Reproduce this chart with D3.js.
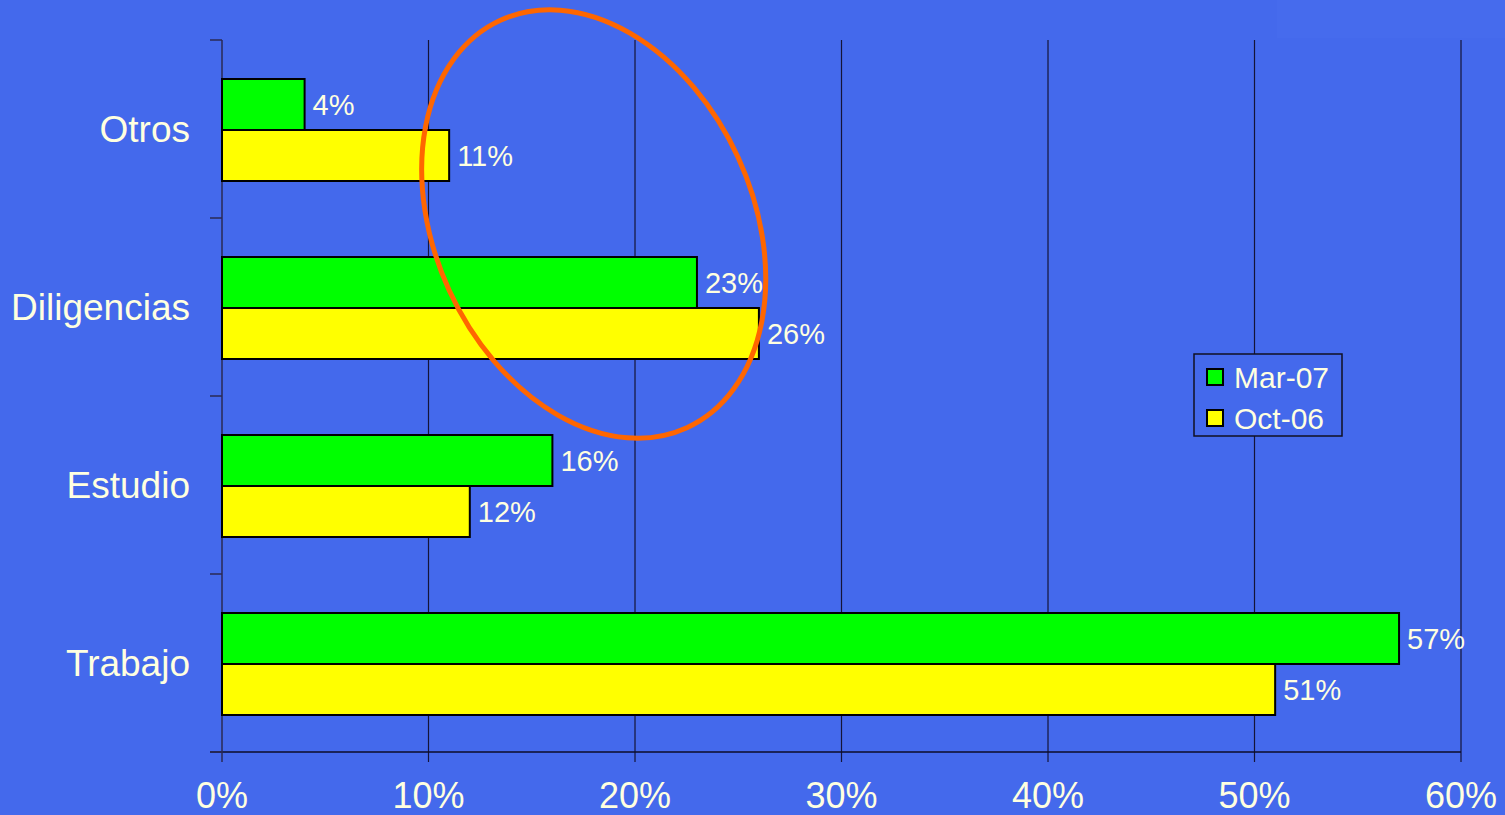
<!DOCTYPE html>
<html><head><meta charset="utf-8">
<script src="https://cdn.jsdelivr.net/npm/d3@7"></script>
<style>
html,body{margin:0;padding:0;background:#4469EC;}
svg{display:block;font-family:"Liberation Sans",Arial,sans-serif;}
</style></head>
<body>
<svg id="chart" width="1505" height="815"></svg>
<script>
const categories = ["Otros", "Diligencias", "Estudio", "Trabajo"];
const seriesNames = ["Mar-07", "Oct-06"];
const mar07 = [4, 23, 16, 57];
const oct06 = [11, 26, 12, 51];
const xTicks = [0, 10, 20, 30, 40, 50, 60];
const colors = ["#00FF00", "#FFFF00"];
const textColor = "#FFFFE0";

const svg = d3.select("#chart");
const W = 1505, H = 815;
const m = {left: 222, right: 44, top: 40, bottom: 63};
const pw = W - m.left - m.right, ph = H - m.top - m.bottom;

svg.append("rect").attr("width", W).attr("height", H).attr("fill", "#4469EC");
svg.append("rect").attr("x", 1277).attr("y", 0).attr("width", 228).attr("height", 38)
  .attr("fill", "#466BED");

const g = svg.append("g").attr("transform", `translate(${m.left},${m.top})`);

const x = d3.scaleLinear().domain([0, 60]).range([0, pw]);
const y = d3.scaleBand().domain(categories).range([0, ph]).paddingInner(0).paddingOuter(0);
const inner = d3.scaleBand().domain(seriesNames).range([0, 102]);
const groupOffset = (y.bandwidth() - 102) / 2 + 1;

// grid lines
g.selectAll(".grid").data(xTicks.slice(1)).join("line")
  .attr("x1", d => x(d)).attr("x2", d => x(d))
  .attr("y1", 0).attr("y2", ph + 10)
  .attr("stroke", "#141438").attr("stroke-width", 1.2);

// bottom axis line
g.append("line").attr("x1", -12).attr("x2", x(60)).attr("y1", ph).attr("y2", ph)
  .attr("stroke", "#0C0C2A").attr("stroke-width", 1.5);

// x tick labels
g.selectAll(".xt").data(xTicks).join("text")
  .attr("x", d => x(d)).attr("y", ph + 56)
  .attr("text-anchor", "middle").attr("fill", textColor)
  .attr("font-size", 36).text(d => d + "%");

// left axis
g.append("line").attr("x1", 0).attr("x2", 0).attr("y1", 0).attr("y2", ph + 10)
  .attr("stroke", "#2A2A55").attr("stroke-width", 1.5);
const yTickPos = d3.range(categories.length + 1).map(i => i * y.step());
g.selectAll(".yt").data(yTickPos).join("line")
  .attr("x1", -12).attr("x2", 0).attr("y1", d => d).attr("y2", d => d)
  .attr("stroke", "#2A2A55").attr("stroke-width", 1.5);

// category labels
g.selectAll(".cat").data(categories).join("text")
  .attr("x", -32).attr("y", d => y(d) + y.bandwidth() / 2)
  .attr("dy", "0.34em").attr("text-anchor", "end")
  .attr("fill", textColor).attr("font-size", 37).text(d => d);

// bars
const rows = [];
categories.forEach((c, i) => {
  rows.push({cat: c, s: seriesNames[0], v: mar07[i], col: colors[0]});
  rows.push({cat: c, s: seriesNames[1], v: oct06[i], col: colors[1]});
});
g.selectAll(".bar").data(rows).join("rect")
  .attr("x", 0)
  .attr("y", d => y(d.cat) + groupOffset + inner(d.s))
  .attr("width", d => x(d.v))
  .attr("height", inner.bandwidth())
  .attr("fill", d => d.col)
  .attr("stroke", "#000").attr("stroke-width", 2);

g.selectAll(".lbl").data(rows).join("text")
  .attr("x", d => x(d.v) + 8)
  .attr("y", d => y(d.cat) + groupOffset + inner(d.s) + inner.bandwidth() / 2)
  .attr("dy", "0.36em").attr("fill", textColor).attr("font-size", 29)
  .text(d => d.v + "%");

// legend
const lg = svg.append("g").attr("transform", "translate(1194,354)");
lg.append("rect").attr("width", 148).attr("height", 82)
  .attr("fill", "#4469EC").attr("stroke", "#111122").attr("stroke-width", 1.5);
seriesNames.forEach((s, i) => {
  lg.append("rect").attr("x", 13).attr("y", 15 + i * 41).attr("width", 16).attr("height", 16)
    .attr("fill", colors[i]).attr("stroke", "#000").attr("stroke-width", 2);
  lg.append("text").attr("x", 40).attr("y", 23 + i * 41).attr("dy", "0.36em")
    .attr("fill", textColor).attr("font-size", 30).text(s);
});

// orange annotation ellipse
const ex = m.left + x(18), ey = m.top + y("Diligencias") + y.bandwidth() / 2 - 83;
svg.append("ellipse")
  .attr("cx", 0).attr("cy", 0).attr("rx", 159).attr("ry", 224)
  .attr("transform", `translate(${ex},${ey}) rotate(-24.6)`)
  .attr("fill", "none").attr("stroke", "#FF6600").attr("stroke-width", 5);
</script>
</body></html>
